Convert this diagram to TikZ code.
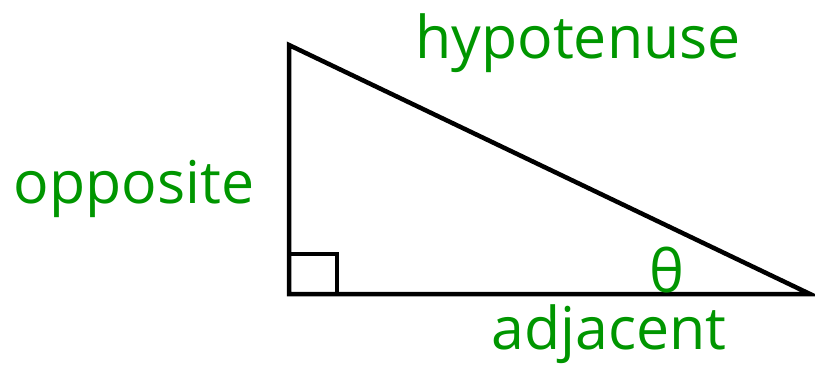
\documentclass[tikz,border=0pt]{standalone}
\usepackage{fontspec}
\setmainfont{Open Sans}
\definecolor{lblgreen}{RGB}{0,150,0}
\begin{document}
\begin{tikzpicture}[x=1pt,y=-1pt,
  lbl/.style={text=lblgreen,font=\fontsize{59}{66}\selectfont,inner sep=0pt,anchor=base},
  edge/.style={line width=4.5pt,line join=miter}]
\useasboundingbox (0,0) rectangle (815,368);
\coordinate (T) at (289,45);
\coordinate (C) at (289,294);
\coordinate (R) at (810,294);
\draw[edge] (T) -- (C) -- (R) -- cycle;
\draw[line width=4.5pt] (289,254) -- (337,254) -- (337,294);
\node[lbl] (hyp) at (578,58) {hypotenuse};
\node[lbl] (opp) at (134,203) {opposite};
\node[lbl] (adj) at (609,349) {adjacent};
\node[lbl] (th) at (667,292) {θ};
\end{tikzpicture}
\end{document}
